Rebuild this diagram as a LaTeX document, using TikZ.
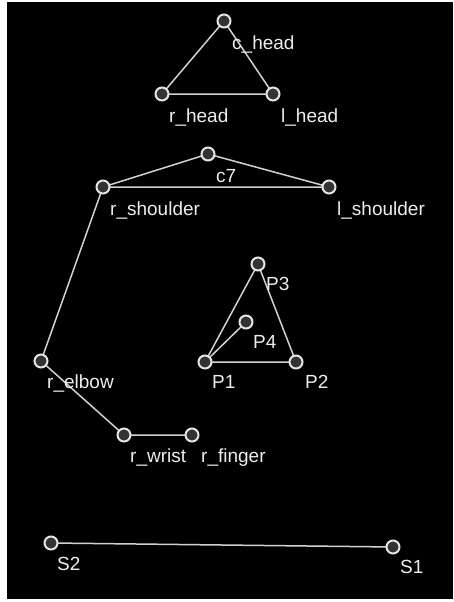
\documentclass[tikz,border=0pt]{standalone}
\usepackage{fontspec}
\setmainfont{Liberation Sans}
\begin{document}
\begin{tikzpicture}[x=1pt,y=-1pt,
  pt/.style={circle,draw=white!90!black,fill=black!80,line width=2pt,minimum size=13pt,inner sep=0pt},
  lbl/.style={anchor=base west,inner sep=0pt,text=white!93!black,font=\fontsize{19}{19}\selectfont},
  bone/.style={draw=white!82!black,line width=1.5pt}]
\useasboundingbox (0,0) rectangle (453,602);
\fill[white] (0,0) rectangle (453,602);
\fill[black] (7,2) rectangle (453,599);
% points
\coordinate (chc) at (224,21);
\coordinate (rhc) at (162,94);
\coordinate (lhc) at (273,94);
\coordinate (c7c) at (208,154);
\coordinate (rsc) at (103,187);
\coordinate (lsc) at (329,187);
\coordinate (p3c) at (258,264);
\coordinate (p4c) at (246,322);
\coordinate (p1c) at (205,362);
\coordinate (p2c) at (296,362);
\coordinate (rec) at (41,361);
\coordinate (rwc) at (124,435);
\coordinate (rfc) at (192,435);
\coordinate (s2c) at (51,543);
\coordinate (s1c) at (393,547);
% connectors
\draw[bone] (chc) -- (rhc) -- (lhc) -- cycle;
\draw[bone] (c7c) -- (rsc) -- (lsc) -- cycle;
\draw[bone] (rsc) -- (rec) -- (rwc) -- (rfc);
\draw[bone] (p1c) -- (p2c) -- (p3c) -- cycle;
\draw[bone] (p1c) -- (p4c);
\draw[bone] (s2c) -- (s1c);
% nodes
\foreach \c in {chc,rhc,lhc,c7c,rsc,lsc,p3c,p4c,p1c,p2c,rec,rwc,rfc,s2c,s1c}
  \node[pt] (n\c) at (\c) {};
% labels
\node[lbl] (tch) at (232,49) {c\_head};
\node[lbl] (trh) at (169,122) {r\_head};
\node[lbl] (tlh) at (281,122) {l\_head};
\node[lbl] (tc7) at (216,182) {c7};
\node[lbl] (trs) at (110,215) {r\_shoulder};
\node[lbl] (tls) at (337,215) {l\_shoulder};
\node[lbl] (tp3) at (266,290) {P3};
\node[lbl] (tp4) at (253,348) {P4};
\node[lbl] (tp1) at (212,388) {P1};
\node[lbl] (tp2) at (305,388) {P2};
\node[lbl] (tre) at (47,388) {r\_elbow};
\node[lbl] (trw) at (130,462) {r\_wrist};
\node[lbl] (trf) at (201,462) {r\_finger};
\node[lbl] (ts2) at (57,570) {S2};
\node[lbl] (ts1) at (400,573) {S1};
\end{tikzpicture}
\end{document}
